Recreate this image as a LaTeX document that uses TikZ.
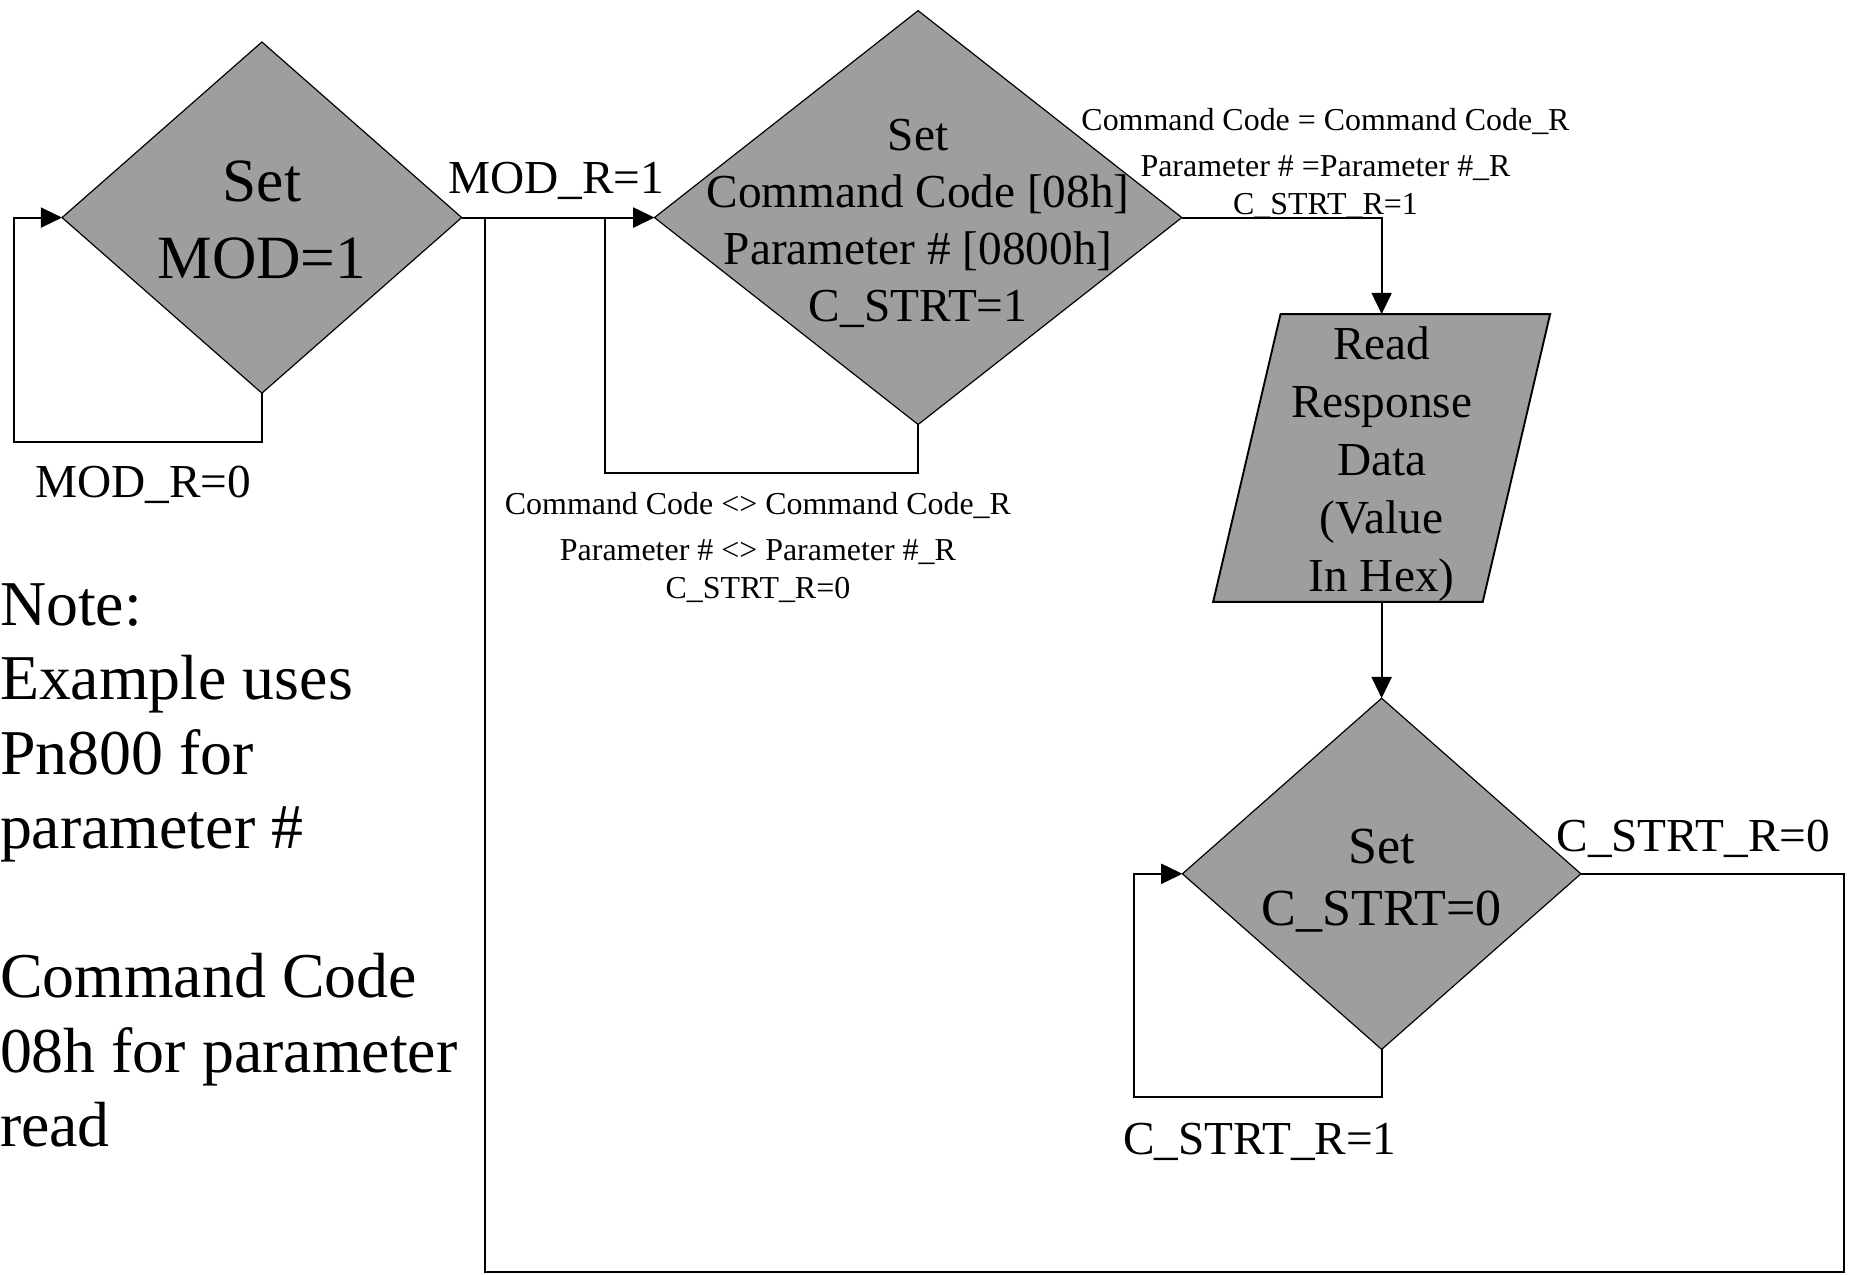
\documentclass[tikz,border=0pt]{standalone}
\usepackage{fontspec}
\setmainfont{Liberation Serif}
\usetikzlibrary{arrows.meta,shapes.geometric,calc}
\definecolor{boxgray}{RGB}{158,158,158}
\begin{document}
\begin{tikzpicture}[x=0.5pt,y=-0.5pt,
  dia/.style={shape=diamond, draw=black, line width=0.5pt, fill=boxgray, inner sep=0pt, outer sep=0pt},
  conn/.style={draw=black, line width=0.8pt},
  arr/.style={conn, -{Triangle[length=9pt,width=8.5pt]}},
  paranode/.style={inner sep=0pt, outer sep=0pt, minimum width=114pt, minimum height=121.7pt},
  parashape/.style={draw=black, line width=0.8pt, fill=boxgray},
  txt/.style={inner sep=0pt, outer sep=0pt, align=center, text=black},
  bigtxt/.style={txt, font=\fontsize{26}{32.5}\selectfont},
  dtwotxt/.style={txt, font=\fontsize{20}{24.2}\selectfont},
  rdtxt/.style={txt, font=\fontsize{20}{24.5}\selectfont},
  cfourtxt/.style={txt, font=\fontsize{22}{26.5}\selectfont},
  lbltxt/.style={txt, font=\fontsize{20}{24}\selectfont},
  smalltxt/.style={txt, font=\fontsize{13.5}{16}\selectfont},
  notetxt/.style={inner sep=0pt, outer sep=0pt, align=left, font=\fontsize{27}{31.5}\selectfont}
]
\useasboundingbox (0,0) rectangle (1568,1078);

% shapes
\node[dia, minimum width=169pt, minimum height=148.5pt] (d1) at (221.5,184) {};
\node[dia, minimum width=223pt, minimum height=175pt] (d2) at (776.5,184) {};
\node[paranode] (rd) at (1168.5,387.3) {};
\draw[parashape] ($(rd.north)+(-85.5,0)$) -- ($(rd.north)+(142.5,0)$) -- ($(rd.south)+(85.5,0)$) -- ($(rd.south)+(-142.5,0)$) -- cycle;
\node[dia, minimum width=168.5pt, minimum height=148.5pt] (d4) at (1168.5,739) {};

% texts in shapes
\node[bigtxt] (d1t) at (221.5,186.3) {Set\\MOD=1};
\node[dtwotxt] (d2t) at (776.5,189) {Set\\Command Code [08h]\\Parameter \# [0800h]\\C\_STRT=1};
\node[rdtxt] (rdt) at (1168.5,392.4) {Read\\Response\\Data\\(Value\\In Hex)};
\node[cfourtxt] (d4t) at (1168.5,744.8) {Set\\C\_STRT=0};

% connector corners
\coordinate (l1) at (12,373.5);
\coordinate (l2) at (512,400);
\coordinate (l4) at (959,928);
\coordinate (j1) at (410,184);
\coordinate (r1) at (1559.5,1076);

% connectors
\draw[arr] (d1.south) |- (l1) |- (d1.west);
\draw[arr] (d1.east) -- (d2.west);
\draw[conn] (d2.south) |- (l2) -- (l2 |- d2.west);
\draw[arr] (d2.east) -| (rd.north);
\draw[arr] (rd.south) -- (d4.north);
\draw[arr] (d4.south) |- (l4) |- (d4.west);
\draw[conn] (d4.east) -| (r1) -| (j1);

% labels
\node[lbltxt, anchor=base] (lmr1) at (470.5,164) {MOD\_R=1};
\node[lbltxt, anchor=base] (lmr0) at (121,421) {MOD\_R=0};
\node[lbltxt, anchor=base] (lcs0) at (1432,720) {C\_STRT\_R=0};
\node[lbltxt, anchor=base] (lcs1) at (1065.5,976) {C\_STRT\_R=1};

\node[smalltxt, anchor=base] (ok1) at (1121,110) {Command Code = Command Code\_R};
\node[smalltxt, anchor=base] (ok2) at (1121,149) {Parameter \# =Parameter \#\_R};
\node[smalltxt, anchor=base] (ok3) at (1121,181) {C\_STRT\_R=1};

\node[smalltxt, anchor=base] (ng1) at (641,435) {Command Code <> Command Code\_R};
\node[smalltxt, anchor=base] (ng2) at (641,474) {Parameter \# <> Parameter \#\_R};
\node[smalltxt, anchor=base] (ng3) at (641,506) {C\_STRT\_R=0};

% note
\node[notetxt, anchor=west] (note) at (0,732) {Note:\\Example uses\\Pn800 for\\parameter \#\\[31.5pt]Command Code\\08h for parameter\\read};
\end{tikzpicture}
\end{document}
